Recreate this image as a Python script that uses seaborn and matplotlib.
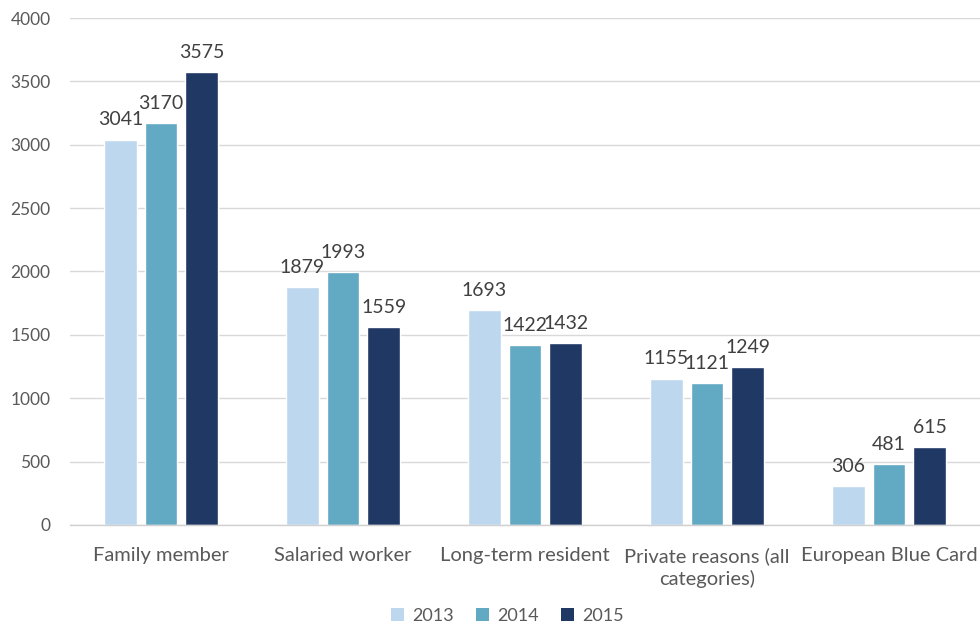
import matplotlib
matplotlib.use("Agg")
import matplotlib.pyplot as plt
import seaborn as sns
import pandas as pd
from matplotlib.patches import Patch

categories = ["Family member", "Salaried worker", "Long-term resident",
              "Private reasons (all\ncategories)", "European Blue Card"]
years = ["2013", "2014", "2015"]
values_2013 = [3041, 1879, 1693, 1155, 306]
values_2014 = [3170, 1993, 1422, 1121, 481]
values_2015 = [3575, 1559, 1432, 1249, 615]
y_ticks = [0, 500, 1000, 1500, 2000, 2500, 3000, 3500, 4000]

colors = ["#BDD7EE", "#62A9C4", "#203864"]

rows = []
for year, vals in zip(years, [values_2013, values_2014, values_2015]):
    for cat, v in zip(categories, vals):
        rows.append({"category": cat, "year": year, "value": v})
df = pd.DataFrame(rows)

sns.set_theme(style="white")
plt.rcParams["font.family"] = ["Lato", "DejaVu Sans"]

fig = plt.figure(figsize=(9.8, 6.3), dpi=100)
ax = fig.add_axes([0.0714, 0.1667, 0.9286, 0.8047])

sns.barplot(data=df, x="category", y="value", hue="year", order=categories,
            hue_order=years, palette=colors, width=0.67, gap=0.2,
            saturation=1, ax=ax, legend=False, errorbar=None)

text_col = "#595959"
for container in ax.containers:
    ax.bar_label(container, fmt="%d", padding=8, fontsize=14, color="#404040")

ax.set_ylim(0, 4000)
ax.set_xlim(-0.5, 4.5)
ax.set_yticks(y_ticks)
ax.yaxis.grid(True, color="#D9D9D9", linewidth=1)
ax.set_axisbelow(True)
for s in ["top", "right", "left"]:
    ax.spines[s].set_visible(False)
ax.spines["bottom"].set_color("#D0D0D0")
ax.spines["bottom"].set_linewidth(1)
ax.tick_params(axis="y", length=0, pad=14, labelsize=12.5, labelcolor=text_col)
ax.tick_params(axis="x", length=0, pad=16, labelsize=14.5, labelcolor=text_col)
for lbl in ax.get_xticklabels():
    lbl.set_linespacing(1.35)
ax.set_xlabel("")
ax.set_ylabel("")

handles = [Patch(facecolor=c, edgecolor="none") for c in colors]
fig.legend(handles, years, loc="lower center", bbox_to_anchor=(0.518, -0.016),
           ncol=3, frameon=False, fontsize=13, labelcolor=text_col,
           handlelength=0.7, handleheight=0.7, handletextpad=0.5,
           columnspacing=1.2)

fig.savefig("out.png", dpi=100)
